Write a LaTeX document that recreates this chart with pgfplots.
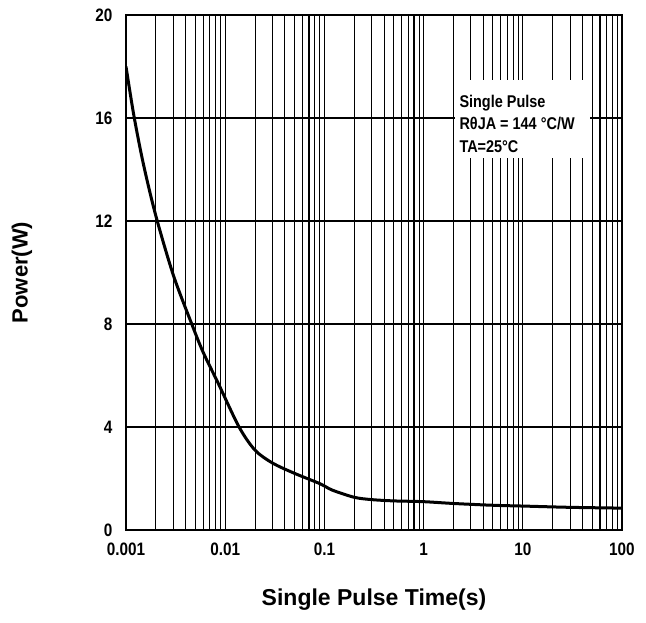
\documentclass[border=0pt]{standalone}
\usepackage{pgfplots}
\pgfplotsset{compat=1.18}
\usepackage{fontspec}
\setmainfont{Liberation Sans}
\newfontfamily\narrow[FakeStretch=0.85]{Liberation Sans}
\begin{document}
\begin{tikzpicture}
\begin{axis}[
  scale only axis,
  width=496pt, height=515pt,
  xmode=log, log basis x=10,
  xmin=0.001, xmax=100, ymin=0, ymax=20,
  xtick={0.001,0.01,0.1,1,10,100},
  xticklabels={0.001,0.01,0.1,1,10,100},
  minor xtick={0.002,0.003,0.004,0.005,0.006,0.007,0.008,0.009,
               0.02,0.03,0.04,0.05,0.06,0.07,0.08,0.09,
               0.2,0.3,0.4,0.5,0.6,0.7,0.8,0.9,
               2,3,4,5,6,7,8,9,
               20,30,40,50,60,70,80,90},
  ytick={0,4,8,12,16,20},
  /pgf/number format/assume math mode=true,
  grid=both,
  major grid style={black, line width=1.1pt},
  minor grid style={black, line width=1.1pt},
  axis line style={black, line width=1.4pt},
  tick style={draw=none},
  major tick length=0pt, minor tick length=0pt,
  ticklabel style={font=\narrow\bfseries\fontsize{18}{20}\selectfont, text=black},
  xticklabel style={text height=13pt, text depth=0pt, anchor=north, yshift=-9pt},
  yticklabel style={anchor=east, xshift=-10pt},
  xlabel={Single Pulse Time(s)},
  ylabel={Power(W)},
  xlabel style={font=\bfseries\fontsize{23}{26}\selectfont, at={(axis description cs:0.5,-0.136)}, anchor=center},
  ylabel style={font=\bfseries\fontsize{22}{26}\selectfont, at={(axis description cs:-0.21,0.5)}, anchor=center},
]
\addplot[black, line width=3pt, smooth, tension=0.5] coordinates {
(0.001,18) (0.0012,16.1) (0.0015,14.2) (0.002,12.2) (0.003,9.9)
(0.0046,8) (0.006,6.9) (0.0085,5.7) (0.0138,4) (0.02,3.1)
(0.03,2.6) (0.05,2.2) (0.09,1.8) (0.12,1.55) (0.2,1.27)
(0.3,1.18) (0.5,1.13) (1,1.1) (2,1.03) (5,0.96) (10,0.93)
(30,0.88) (100,0.85)
};
\node[fill=white, inner sep=0pt, minimum width=135pt, minimum height=78pt, anchor=north west]
  at (rel axis cs:0.663,0.874) {};
\node[anchor=north west, align=left, inner sep=0pt,
      font=\narrow\bfseries\fontsize{17}{22.5}\selectfont]
  at (rel axis cs:0.672,0.845) {Single Pulse\\RθJA = 144 °C/W\\TA=25°C};
\end{axis}
\path (current axis.south west) ++(-126pt,-92pt) rectangle ++(646pt,622pt);
\end{tikzpicture}
\end{document}
